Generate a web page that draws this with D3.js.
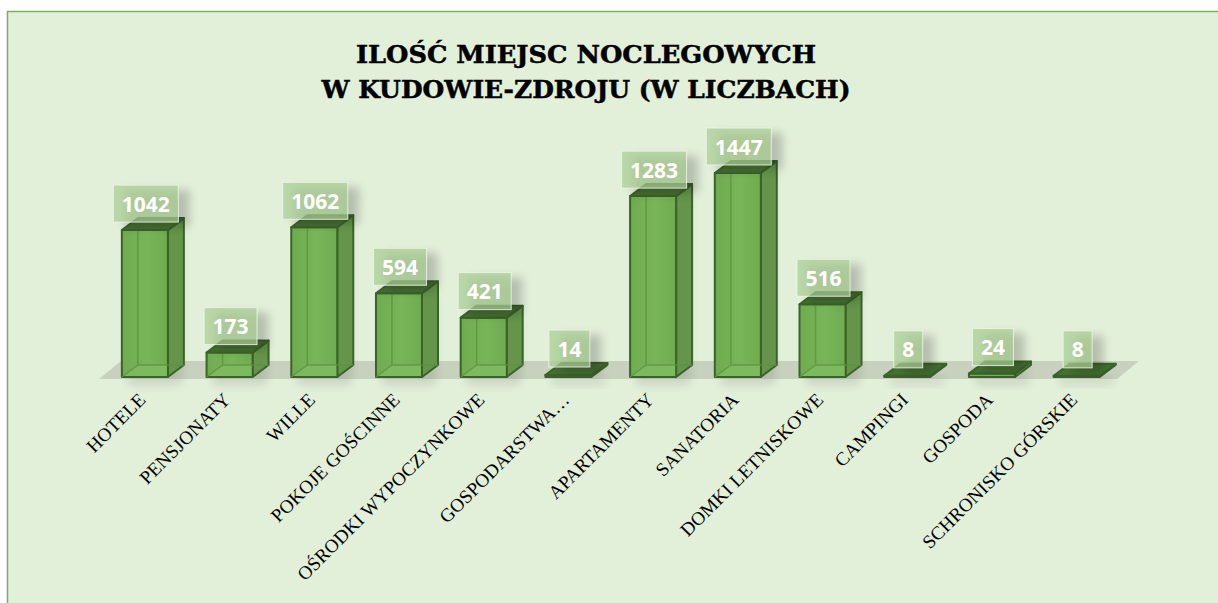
<!DOCTYPE html>
<html>
<head>
<meta charset="utf-8">
<script src="https://cdn.jsdelivr.net/npm/d3@7"></script>
<style>
  html, body { margin: 0; padding: 0; background: #fff; }
  svg { display: block; }
</style>
</head>
<body>
<svg id="chart" width="1218" height="603"></svg>
<script>
// chart data
const categories = ["HOTELE", "PENSJONATY", "WILLE", "POKOJE GOŚCINNE", "OŚRODKI WYPOCZYNKOWE", "GOSPODARSTWA…", "APARTAMENTY", "SANATORIA", "DOMKI LETNISKOWE", "CAMPINGI", "GOSPODA", "SCHRONISKO GÓRSKIE"];
const values = [1042, 173, 1062, 594, 421, 14, 1283, 1447, 516, 8, 24, 8];
const titleLines = ["ILOŚĆ MIEJSC NOCLEGOWYCH", "W KUDOWIE-ZDROJU (W LICZBACH)"];
const titleWidths = [460, 529];

const svg = d3.select("#chart");

// depth of the fake 3d boxes
const depthX = 16;
const depthY = 12;
const barWidth = 46;

const x = d3.scaleBand().domain(categories).range([102.5, 1119]);
const y = d3.scaleLinear().domain([0, 1447]).range([377, 173]);

const defs = svg.append("defs");
defs.append("filter").attr("id", "blur").attr("x", "-50%").attr("y", "-50%").attr("width", "200%").attr("height", "200%")
  .append("feGaussianBlur").attr("stdDeviation", 5);

const frontGrad = defs.append("linearGradient").attr("id", "front");
frontGrad.append("stop").attr("offset", "0%").attr("stop-color", "#6fab4f");
frontGrad.append("stop").attr("offset", "55%").attr("stop-color", "#78b558");
frontGrad.append("stop").attr("offset", "100%").attr("stop-color", "#6fab4f");

// chart area
svg.append("rect")
  .attr("x", 7.5).attr("y", 11.5)
  .attr("width", 1230).attr("height", 620)
  .attr("fill", "#e2efd9")
  .attr("stroke", "#7fae5e")
  .attr("stroke-width", 1.5);

// title
svg.append("text")
  .attr("text-anchor", "middle")
  .attr("font-family", "DejaVu Serif")
  .attr("font-weight", "bold")
  .attr("font-size", 25)
  .attr("fill", "#000")
  .attr("stroke", "#000")
  .attr("stroke-width", 0.5)
  .selectAll("tspan")
  .data(titleLines)
  .enter()
  .append("tspan")
  .attr("x", 586)
  .attr("y", (d, i) => 63 + i * 35)
  .attr("textLength", (d, i) => titleWidths[i])
  .attr("lengthAdjust", "spacingAndGlyphs")
  .text((d) => d);

// floor
const floorY = y(0) + 2;
const floorLeft = x.range()[0] - 3.5;
const floorRight = x.range()[1] - 2;
svg.append("path")
  .attr("d", d3.line()([
    [floorLeft, floorY],
    [floorRight, floorY],
    [floorRight + 22, floorY - 18],
    [floorLeft + 22, floorY - 18],
  ]) + "Z")
  .attr("fill", "#c8d1bd");

const bars = svg.selectAll(".bar").data(categories).enter().append("g").attr("class", "bar");

const left = (d) => x(d) + (x.bandwidth() - barWidth) / 2;
const value = (d) => values[categories.indexOf(d)];
const poly = (pts) => d3.line()(pts) + "Z";

// soft shadow under the bars
bars.append("rect")
  .attr("x", (d) => left(d) + 6)
  .attr("y", (d) => y(value(d)) + 2)
  .attr("width", barWidth + 8)
  .attr("height", (d) => y(0) - y(value(d)) + 6)
  .attr("fill", "#000")
  .attr("opacity", 0.1)
  .attr("filter", "url(#blur)");

// side
bars.append("path")
  .attr("d", (d) => poly([
    [left(d) + barWidth, y(0)],
    [left(d) + barWidth + depthX, y(0) - depthY],
    [left(d) + barWidth + depthX, y(value(d)) - depthY],
    [left(d) + barWidth, y(value(d))],
  ]))
  .attr("fill", "#64954a")
  .attr("stroke", "#3a632b")
  .attr("stroke-width", 2)
  .attr("stroke-linejoin", "round");

// front
bars.append("rect")
  .attr("x", left)
  .attr("y", (d) => y(value(d)))
  .attr("width", barWidth)
  .attr("height", (d) => y(0) - y(value(d)))
  .attr("fill", "url(#front)")
  .attr("stroke", "#3a632b")
  .attr("stroke-width", 2)
  .attr("stroke-linejoin", "round");

// floor of the box, seen through the front
bars.filter((d) => y(0) - y(value(d)) >= 12)
  .append("path")
  .attr("d", (d) => poly([
    [left(d) + 1, y(0) - 1],
    [left(d) + depthX, y(0) - depthY],
    [left(d) + barWidth - 1, y(0) - depthY],
    [left(d) + barWidth - 1, y(0) - 1],
  ]))
  .attr("fill", "#7db95d");

// inner lines of the far corner, visible through the front
bars.filter((d) => y(0) - y(value(d)) >= 12)
  .append("path")
  .attr("d", (d) => d3.line()([[left(d) + depthX, y(value(d))], [left(d) + depthX, y(0) - depthY], [left(d) + barWidth + depthX, y(0) - depthY]])
      + d3.line()([[left(d), y(0)], [left(d) + depthX, y(0) - depthY]]))
  .attr("fill", "none")
  .attr("stroke", "#5b9440")
  .attr("stroke-opacity", 0.8)
  .attr("stroke-width", 1.5);

// top
bars.append("path")
  .attr("d", (d) => poly([
    [left(d), y(value(d))],
    [left(d) + depthX, y(value(d)) - depthY],
    [left(d) + barWidth + depthX, y(value(d)) - depthY],
    [left(d) + barWidth, y(value(d))],
  ]))
  .attr("fill", "#466f33")
  .attr("stroke", "#3a632b")
  .attr("stroke-width", 2)
  .attr("stroke-linejoin", "round");

// data labels with translucent boxes
const boxHeight = 37;
const boxWidth = (d) => 17 + String(value(d)).length * 12;

bars.append("rect")
  .attr("x", (d) => x(d) + x.bandwidth() / 2 - boxWidth(d) / 2 + 12)
  .attr("y", (d) => y(value(d)) - 8 - boxHeight + 5)
  .attr("width", boxWidth)
  .attr("height", boxHeight)
  .attr("fill", "#000")
  .attr("opacity", 0.2)
  .attr("filter", "url(#blur)");

bars.append("rect")
  .attr("x", (d) => x(d) + x.bandwidth() / 2 - boxWidth(d) / 2 + 1)
  .attr("y", (d) => y(value(d)) - 8 - boxHeight)
  .attr("width", boxWidth)
  .attr("height", boxHeight)
  .attr("fill", "#a9cd93")
  .attr("fill-opacity", 0.72)
  .attr("stroke", "#f0f6ea")
  .attr("stroke-opacity", 0.85)
  .attr("stroke-width", 1);

bars.append("text")
  .attr("x", (d) => x(d) + x.bandwidth() / 2 + 1)
  .attr("y", (d) => y(value(d)) - 8 - boxHeight / 2 + 8)
  .attr("text-anchor", "middle")
  .attr("font-family", "Open Sans")
  .attr("font-weight", "bold")
  .attr("font-size", 21)
  .attr("fill", "#fff")
  .text(value);

// category labels
const axis = svg.append("g")
  .attr("transform", "translate(0," + (y(0) + 20) + ")")
  .call(d3.axisBottom(x).tickSize(0));
axis.select(".domain").remove();
axis.selectAll("text")
  .attr("font-family", "Liberation Serif")
  .attr("font-size", 19)
  .attr("letter-spacing", 0.1)
  .attr("fill", "#000")
  .attr("text-anchor", "end")
  .attr("dx", 0)
  .attr("dy", 0)
  .attr("y", 0)
  .attr("transform", "translate(2,4) rotate(-45)");
</script>
</body>
</html>
